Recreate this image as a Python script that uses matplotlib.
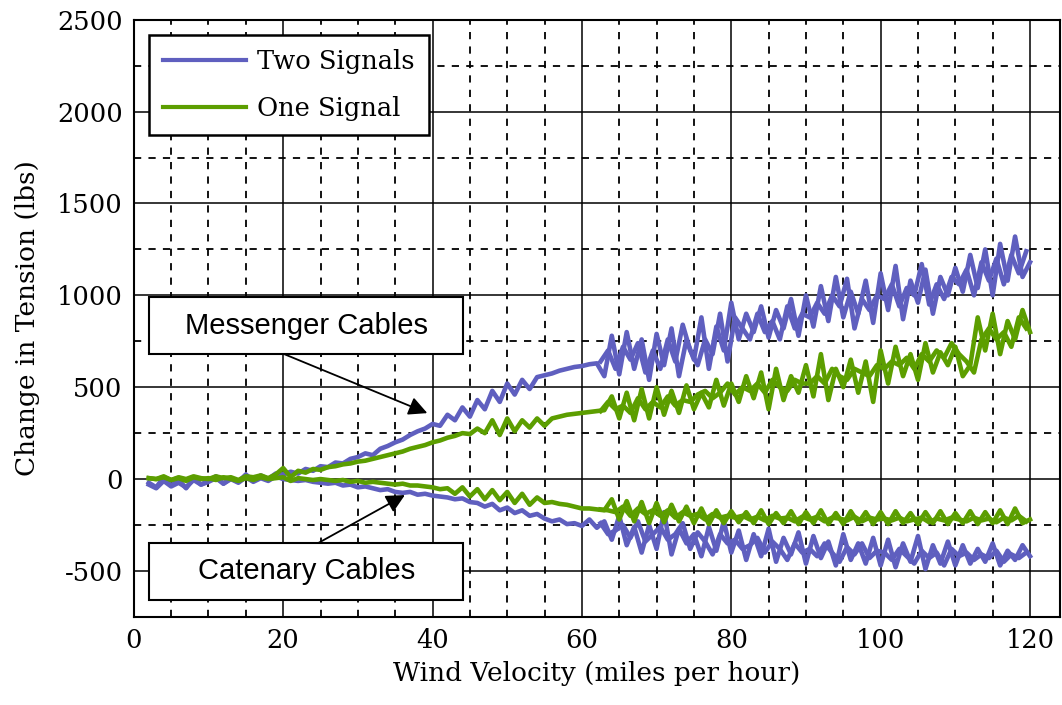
import numpy as np
import matplotlib.pyplot as plt
from matplotlib.patches import Rectangle
from matplotlib.ticker import MultipleLocator

# wind velocity (mph), one reading per mph on the first sweep
speed = np.arange(2, 121)
# second sweep, only where the traces get noisy
speed2 = np.arange(62.5, 120, 1.0)

# change in tension (lbs)
two_messenger = [
    -20, -45, 10, -35, -5, -50, 5, -30,
    -10, 15, -25, 5, -15, 25, -10, 20, 0, 30,
    25, 40, 30, 55, 45, 70, 65, 90, 85, 110,
    120, 140, 130, 165, 180, 200, 215, 240, 260, 275,
    300, 290, 350, 320, 390, 340, 430, 380, 480, 420,
    520, 460, 540, 490, 555, 565, 575, 590, 600, 610,
    615, 625, 630, 560, 780, 570, 800, 600, 760, 540,
    790, 620, 820, 560, 760, 650, 880, 600, 830, 700,
    960, 760, 900, 800, 940, 770, 920, 820, 980, 780,
    1000, 830, 1050, 860, 1100, 880, 1020, 900, 1080, 850,
    1120, 920, 1160, 870, 1080, 960, 1140, 900, 1100, 1000,
    1150, 1020, 1220, 1040, 1250, 1000, 1280, 1080, 1320, 1100,
    1180]
two_messenger2 = [
    640, 700, 600, 720, 650, 740, 580, 700,
    600, 760, 640, 840, 700, 620, 760, 680, 900, 640,
    880, 820, 760, 900, 800, 860, 760, 940, 820, 900,
    880, 960, 900, 1000, 940, 1090, 820, 980, 920, 1000,
    980, 1060, 940, 1040, 1000, 1170, 950, 1060, 980, 1100,
    1060, 1140, 1000, 1180, 1080, 1200, 1060, 1220, 1120, 1240]
two_catenary = [
    -30, -50, -10, -40, -20, -45, -5, -30,
    -15, 5, -25, 0, -20, 10, -15, 5, -10, 15,
    0, -5, -10, -5, -15, -20, -25, -20, -35, -30,
    -45, -40, -50, -60, -55, -70, -75, -70, -85, -80,
    -90, -95, -100, -110, -105, -125, -130, -150, -135, -170,
    -155, -185, -170, -200, -190, -215, -230, -220, -245, -240,
    -255, -220, -265, -230, -330, -200, -360, -260, -400, -250,
    -380, -180, -410, -270, -350, -300, -420, -260, -390, -230,
    -400, -280, -440, -300, -420, -270, -450, -320, -410, -290,
    -460, -310, -430, -340, -470, -300, -440, -350, -460, -320,
    -470, -330, -480, -350, -450, -310, -490, -360, -460, -340,
    -470, -360, -460, -380, -450, -350, -470, -390, -440, -360,
    -420]
two_catenary2 = [
    -240, -300, -280, -250, -320, -230, -340, -300,
    -260, -330, -300, -240, -380, -290, -340, -410, -300, -350,
    -330, -380, -360, -320, -400, -340, -380, -440, -350, -400,
    -380, -420, -350, -400, -450, -370, -410, -350, -430, -390,
    -400, -440, -380, -420, -460, -390, -430, -400, -470, -380,
    -420, -400, -440, -410, -430, -390, -450, -410, -430, -400]
one_messenger = [
    5, 0, 15, -5, 10, 0, 15, 5,
    0, 15, 5, 10, -5, 15, 10, 20, 5, 25,
    60, 10, 45, 35, 55, 50, 65, 70, 80, 85,
    95, 100, 110, 120, 130, 140, 150, 165, 175, 185,
    200, 210, 225, 235, 250, 245, 275, 250, 320, 240,
    330, 260, 320, 280, 330, 290, 330, 340, 350, 355,
    360, 365, 370, 375, 450, 330, 470, 320, 490, 330,
    500, 350, 480, 360, 510, 380, 470, 390, 540, 400,
    520, 420, 560, 440, 580, 380, 600, 430, 560, 470,
    620, 450, 680, 430, 600, 500, 650, 470, 640, 420,
    700, 520, 720, 560, 680, 540, 740, 580, 690, 620,
    720, 560, 620, 880, 700, 900, 680, 860, 760, 920,
    800]
one_messenger2 = [
    370, 420, 380, 400, 360, 440, 380, 420,
    390, 450, 400, 430, 420, 460, 480, 440, 470, 520,
    460, 500, 480, 520, 470, 540, 500, 480, 540, 520,
    520, 560, 520, 600, 560, 540, 600, 580, 560, 620,
    600, 640, 620, 660, 600, 680, 640, 700, 660, 740,
    680, 640, 580, 760, 820, 760, 800, 720, 880, 820]
one_catenary = [
    5, 0, 10, -5, 5, -10, 10, 0,
    5, -5, 10, 0, -10, 5, -5, 10, 0, 5,
    10, -10, 5, 0, -5, 0, -5, -10, -5, -15,
    -10, -20, -15, -20, -25, -30, -25, -35, -35, -40,
    -45, -55, -50, -80, -45, -95, -55, -110, -60, -115,
    -70, -130, -80, -140, -100, -130, -125, -135, -140, -150,
    -160, -160, -165, -170, -110, -220, -120, -230, -125, -240,
    -130, -235, -140, -230, -150, -240, -160, -245, -170, -240,
    -175, -235, -180, -240, -170, -245, -185, -240, -175, -245,
    -180, -240, -170, -245, -185, -245, -175, -240, -180, -245,
    -180, -245, -175, -240, -185, -245, -180, -240, -175, -245,
    -185, -240, -175, -245, -180, -240, -170, -245, -160, -240,
    -220]
one_catenary2 = [
    -165, -170, -180, -150, -200, -160, -190, -170,
    -200, -170, -210, -180, -200, -190, -220, -190, -210, -200,
    -210, -200, -220, -205, -225, -200, -215, -210, -230, -205,
    -220, -205, -230, -210, -215, -225, -205, -230, -210, -220,
    -215, -225, -210, -230, -220, -210, -235, -215, -225, -210,
    -220, -230, -210, -225, -215, -235, -210, -225, -200, -230]

blue = '#5f5fbf'
green = '#5c9e00'

plt.rcParams['axes.unicode_minus'] = False
serif = 'DejaVu Serif'

fig = plt.figure(figsize=(10.62, 7.05), dpi=100)
ax = fig.add_axes([0.126, 0.125, 0.872, 0.847])

lw = 3.3
ax.plot(speed, two_messenger, color=blue, lw=lw, label='Two Signals')
ax.plot(speed2, two_messenger2, color=blue, lw=lw)
ax.plot(speed, two_catenary, color=blue, lw=lw)
ax.plot(speed2, two_catenary2, color=blue, lw=lw)
ax.plot(speed, one_messenger, color=green, lw=lw, label='One Signal')
ax.plot(speed2, one_messenger2, color=green, lw=lw)
ax.plot(speed, one_catenary, color=green, lw=lw)
ax.plot(speed2, one_catenary2, color=green, lw=lw)

ax.set_xlim(0, 124)
ax.set_ylim(-750, 2500)
ax.xaxis.set_major_locator(MultipleLocator(20))
ax.xaxis.set_minor_locator(MultipleLocator(5))
ax.yaxis.set_major_locator(MultipleLocator(500))
ax.yaxis.set_minor_locator(MultipleLocator(250))
ax.set_axisbelow(True)
ax.grid(which='major', color='black', lw=1.1, ls='-')
ax.grid(which='minor', color='black', lw=1.3, ls=(0, (4, 4)))
ax.tick_params(which='both', length=0)
ax.tick_params(axis='y', pad=8)
ax.tick_params(axis='x', pad=8)
for lab in ax.get_xticklabels() + ax.get_yticklabels():
    lab.set_fontfamily(serif)
    lab.set_fontsize(18.5)
for s in ax.spines.values():
    s.set_linewidth(1.5)

ax.set_xlabel('Wind Velocity (miles per hour)', family=serif, fontsize=19, labelpad=6)
ax.set_ylabel('Change in Tension (lbs)', family=serif, fontsize=19, labelpad=12)

leg = ax.legend(loc='upper left', prop={'family': serif, 'size': 18.5},
                handlelength=3.2, handletextpad=0.45, fancybox=False,
                framealpha=1, edgecolor='black', borderaxespad=0.6,
                labelspacing=0.85, borderpad=0.55)
leg.get_frame().set_linewidth(1.8)
for h in leg.get_lines():
    h.set_linewidth(3)

# annotation boxes
for (y0, y1, txt, start, tip) in [
        (679, 989, 'Messenger Cables', (20.2, 679), (39.3, 359)),
        (-658, -348, 'Catenary Cables', (24.7, -348), (36.3, -87))]:
    ax.add_patch(Rectangle((2.1, y0), 42.0, y1 - y0, facecolor='white',
                           edgecolor='black', lw=1.5, zorder=6))
    ax.text(23.1, (y0 + y1) / 2, txt, family='Liberation Sans', fontsize=21,
            ha='center', va='center', zorder=7)
    ax.annotate('', xy=tip, xytext=start, zorder=7,
                arrowprops=dict(arrowstyle='-|>', color='black', lw=1.3,
                                mutation_scale=28, shrinkA=0, shrinkB=0))

fig.savefig('out.png', dpi=100)
